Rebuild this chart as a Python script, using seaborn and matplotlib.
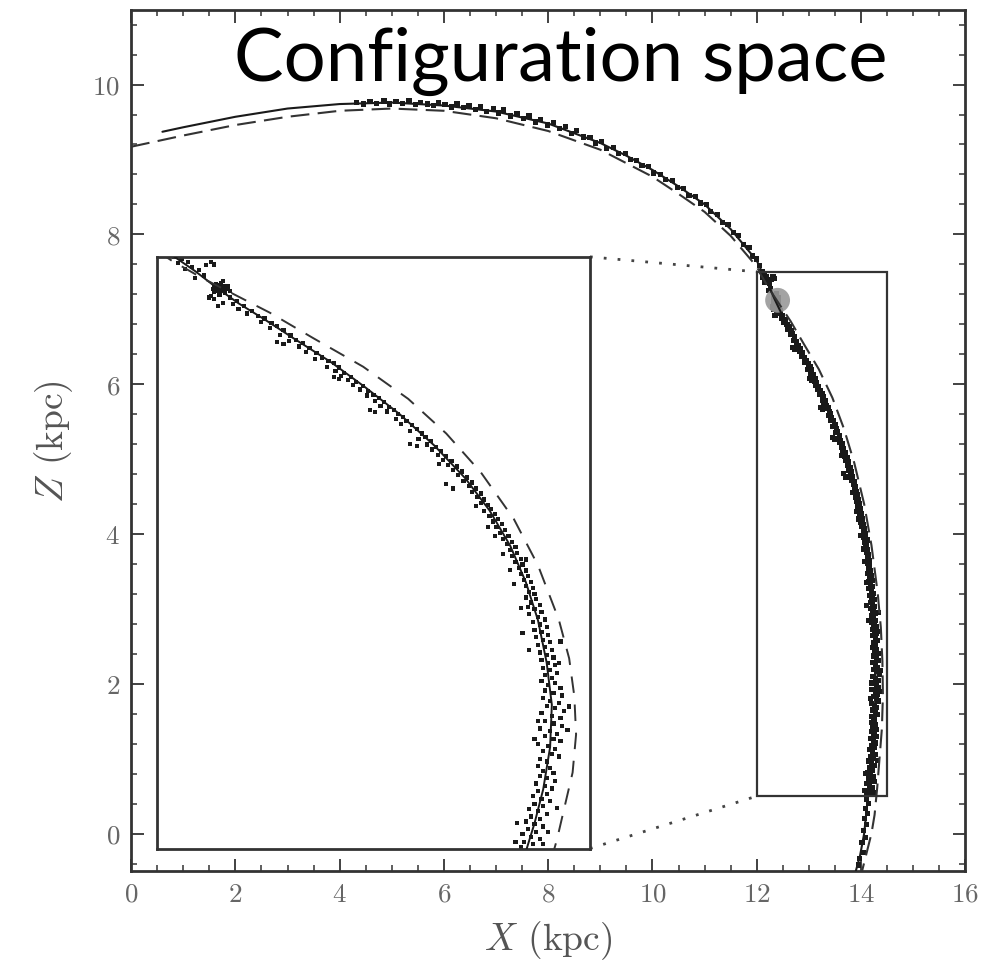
import matplotlib
matplotlib.use("Agg")
import matplotlib.pyplot as plt
from matplotlib.patches import Rectangle
import numpy as np
import pandas as pd
import seaborn as sns

# ---------------- data ----------------
solid_x = [0.6, 1.0, 2.0, 3.0, 4.0, 5.0, 6.0, 7.0, 8.0, 9.0, 9.5, 10.0, 10.5, 11.0, 11.5,
           12.00, 12.10, 12.22, 12.34, 12.47, 12.62, 12.80, 13.00, 13.20, 13.40, 13.60, 13.78,
           13.92, 14.04, 14.13, 14.20, 14.25, 14.28, 14.27, 14.23, 14.18, 14.12, 14.06, 13.98, 13.90]
solid_y = [9.37, 9.43, 9.57, 9.68, 9.74, 9.76, 9.72, 9.64, 9.48, 9.22, 9.05, 8.86, 8.64, 8.40, 8.07,
           7.65, 7.50, 7.33, 7.14, 6.95, 6.76, 6.52, 6.26, 5.96, 5.64, 5.27, 4.88,
           4.50, 4.08, 3.65, 3.20, 2.70, 2.20, 1.70, 1.20, 0.80, 0.40, 0.00, -0.30, -0.50]

dashed_x = [0.0, 1.0, 2.0, 3.0, 4.0, 5.0, 6.0, 7.0, 8.0, 9.0, 10.0, 10.5, 11.0, 11.5, 12.0,
            12.08, 12.25, 12.45, 12.65, 12.90, 13.19, 13.45, 13.67, 13.87, 14.06, 14.20, 14.32,
            14.38, 14.41, 14.42, 14.40, 14.36, 14.31, 14.26, 14.20, 14.11, 14.02]
dashed_y = [9.17, 9.32, 9.46, 9.57, 9.65, 9.68, 9.65, 9.55, 9.38, 9.13, 8.77, 8.54, 8.30, 7.98, 7.57,
            7.46, 7.26, 7.05, 6.84, 6.54, 6.20, 5.82, 5.41, 4.95, 4.40, 3.85, 3.21,
            2.75, 2.30, 1.85, 1.40, 1.05, 0.61, 0.25, 0.00, -0.25, -0.50]

star_pts = [
    # upper arc
    (4.32, 9.76), (4.45, 9.74), (4.58, 9.77), (4.70, 9.75), (4.85, 9.78), (4.95, 9.74), (5.08, 9.77),
    (5.20, 9.75), (5.33, 9.78), (5.45, 9.73), (5.55, 9.76), (5.68, 9.74), (5.80, 9.72), (5.90, 9.76),
    (6.02, 9.73), (6.15, 9.70), (6.25, 9.74), (6.38, 9.69), (6.48, 9.72), (6.60, 9.67), (6.70, 9.70),
    (6.82, 9.64), (6.95, 9.68), (7.05, 9.62), (7.15, 9.66), (7.28, 9.58), (7.40, 9.61), (7.52, 9.55),
    (7.63, 9.58), (7.75, 9.50), (7.85, 9.53), (7.98, 9.46), (8.10, 9.49), (8.22, 9.41), (8.33, 9.44),
    (8.45, 9.35), (8.55, 9.39), (8.68, 9.30), (8.80, 9.29), (8.90, 9.22), (9.02, 9.24), (9.12, 9.15),
    (9.25, 9.16), (9.35, 9.08), (9.48, 9.08), (9.58, 9.00), (9.70, 8.99), (9.80, 8.92), (9.92, 8.91),
    (10.02, 8.82), (10.15, 8.80), (10.25, 8.73), (10.38, 8.72), (10.48, 8.63), (10.60, 8.61),
    (10.70, 8.52), (10.82, 8.51), (10.92, 8.42), (11.03, 8.40), (11.12, 8.31), (11.25, 8.27),
    (11.35, 8.16), (11.45, 8.13), (11.55, 8.02), (11.65, 7.98), (11.75, 7.86), (11.85, 7.82),
    (11.92, 7.71), (12.00, 7.67), (12.05, 7.58),
    # top of zoom box
    (12.10, 7.50), (12.14, 7.47), (12.12, 7.43), (12.18, 7.44), (12.20, 7.38), (12.16, 7.36),
    (12.24, 7.34), (12.28, 7.40), (12.27, 7.28), (12.22, 7.25), (12.31, 7.44), (12.33, 7.41),
    # progenitor clump
    (12.33, 7.15), (12.35, 7.17), (12.37, 7.14), (12.39, 7.16), (12.34, 7.11), (12.36, 7.09),
    (12.38, 7.11), (12.40, 7.12), (12.35, 7.13), (12.37, 7.19), (12.33, 7.08), (12.39, 7.07),
    (12.41, 7.15), (12.36, 7.05), (12.32, 7.12), (12.38, 7.21), (12.42, 7.10), (12.34, 7.18),
    (12.31, 7.04), (12.30, 7.02), (12.33, 7.00), (12.36, 7.14), (12.38, 7.16), (12.35, 7.10),
    # Y 7.0 - 6.3
    (12.42, 7.02), (12.46, 6.98), (12.44, 6.94), (12.50, 6.92), (12.47, 6.88), (12.55, 6.86),
    (12.52, 6.83), (12.58, 6.80), (12.62, 6.77), (12.60, 6.73), (12.66, 6.72), (12.69, 6.68),
    (12.65, 6.66), (12.73, 6.63), (12.71, 6.58), (12.77, 6.57), (12.80, 6.52), (12.76, 6.50),
    (12.84, 6.48), (12.82, 6.44), (12.88, 6.42), (12.86, 6.37), (12.92, 6.36), (12.95, 6.31),
    (12.91, 6.29), (12.69, 6.49), (12.73, 6.47), (12.38, 6.95), (12.35, 6.92),
    # Y 6.3 - 5.5
    (12.99, 6.27), (13.02, 6.24), (12.98, 6.20), (13.05, 6.19), (13.03, 6.15), (13.08, 6.13),
    (13.06, 6.09), (13.12, 6.08), (13.10, 6.04), (13.15, 6.02), (13.13, 5.98), (13.19, 5.97),
    (13.17, 5.93), (13.22, 5.91), (13.25, 5.87), (13.21, 5.86), (13.28, 5.83), (13.26, 5.79),
    (13.31, 5.78), (13.29, 5.74), (13.34, 5.72), (13.37, 5.69), (13.33, 5.67), (13.39, 5.64),
    (13.42, 5.61), (13.38, 5.58), (13.44, 5.56), (13.41, 5.52), (13.47, 5.51),
    (13.02, 6.08), (13.05, 6.05), (13.23, 5.69), (13.26, 5.66), (13.46, 5.29), (13.50, 5.26),
    # Y 5.5 - 4.5
    (13.50, 5.46), (13.46, 5.44), (13.53, 5.41), (13.55, 5.37), (13.51, 5.35), (13.58, 5.32),
    (13.56, 5.28), (13.61, 5.25), (13.59, 5.22), (13.64, 5.20), (13.62, 5.16), (13.67, 5.14),
    (13.65, 5.10), (13.70, 5.08), (13.68, 5.04), (13.73, 5.02), (13.71, 4.98), (13.76, 4.96),
    (13.74, 4.92), (13.79, 4.89), (13.77, 4.85), (13.82, 4.83), (13.80, 4.79), (13.84, 4.76),
    (13.82, 4.72), (13.87, 4.70), (13.85, 4.66), (13.89, 4.63), (13.87, 4.59), (13.91, 4.56),
    (13.93, 4.52), (13.89, 4.49), (13.63, 5.05), (13.67, 4.81), (13.71, 4.76), (13.84, 4.55),
    # Y 4.5 - 3.5
    (13.95, 4.46), (13.92, 4.43), (13.97, 4.40), (13.94, 4.37), (13.99, 4.34), (13.96, 4.30),
    (14.01, 4.27), (13.98, 4.23), (14.03, 4.20), (14.00, 4.16), (14.05, 4.13), (14.02, 4.10),
    (14.07, 4.07), (14.04, 4.03), (14.08, 4.00), (14.05, 3.96), (14.10, 3.93), (14.07, 3.89),
    (14.11, 3.86), (14.09, 3.82), (14.13, 3.79), (14.10, 3.75), (14.14, 3.72), (14.12, 3.68),
    (14.16, 3.65), (14.13, 3.61), (14.17, 3.58), (14.15, 3.54), (14.18, 3.51),
    (13.91, 4.30), (13.95, 4.20), (14.00, 3.98), (14.13, 3.92), (14.04, 3.80), (14.06, 3.63),
    # Y 3.5 - 2.5
    (14.13, 3.47), (14.19, 3.45), (14.16, 3.41), (14.21, 3.38), (14.14, 3.36), (14.18, 3.33),
    (14.22, 3.30), (14.15, 3.27), (14.20, 3.24), (14.24, 3.21), (14.17, 3.18), (14.21, 3.15),
    (14.25, 3.12), (14.18, 3.09), (14.22, 3.06), (14.26, 3.03), (14.19, 3.00), (14.23, 2.97),
    (14.27, 2.94), (14.20, 2.91), (14.24, 2.88), (14.28, 2.85), (14.21, 2.82), (14.25, 2.79),
    (14.29, 2.76), (14.22, 2.73), (14.26, 2.70), (14.30, 2.67), (14.23, 2.64), (14.27, 2.61),
    (14.31, 2.58), (14.24, 2.55), (14.28, 2.52),
    (14.10, 3.35), (14.11, 3.05), (14.15, 2.85), (14.33, 2.95), (14.32, 2.70),
    # Y 2.5 - 1.5
    (14.22, 2.48), (14.30, 2.46), (14.26, 2.43), (14.33, 2.40), (14.24, 2.37), (14.29, 2.34),
    (14.34, 2.31), (14.23, 2.28), (14.27, 2.25), (14.32, 2.22), (14.25, 2.19), (14.30, 2.16),
    (14.35, 2.13), (14.22, 2.10), (14.28, 2.07), (14.33, 2.04), (14.24, 2.01), (14.29, 1.98),
    (14.34, 1.95), (14.21, 1.92), (14.27, 1.89), (14.31, 1.86), (14.24, 1.83), (14.29, 1.80),
    (14.33, 1.77), (14.20, 1.74), (14.26, 1.71), (14.30, 1.68), (14.23, 1.65), (14.28, 1.62),
    (14.32, 1.59), (14.21, 1.56), (14.25, 1.53), (14.38, 2.18), (14.37, 1.90), (14.18, 1.80),
    (14.20, 2.01),
    # Y 1.5 - 0.5
    (14.20, 1.48), (14.27, 1.45), (14.23, 1.42), (14.29, 1.39), (14.21, 1.36), (14.25, 1.33),
    (14.30, 1.30), (14.19, 1.27), (14.24, 1.24), (14.28, 1.21), (14.20, 1.18), (14.25, 1.15),
    (14.17, 1.12), (14.22, 1.09), (14.27, 1.06), (14.18, 1.03), (14.23, 1.00), (14.15, 0.97),
    (14.20, 0.94), (14.25, 0.91), (14.16, 0.88), (14.21, 0.85), (14.13, 0.82), (14.18, 0.79),
    (14.23, 0.76), (14.14, 0.73), (14.19, 0.70), (14.11, 0.67), (14.16, 0.64), (14.21, 0.61),
    (14.12, 0.58), (14.17, 0.55), (14.10, 0.52),
    (14.31, 0.98), (14.08, 0.80), (14.26, 0.70), (14.07, 0.58), (14.23, 0.55),
    # below zoom box
    (14.10, 0.45), (14.14, 0.40), (14.08, 0.33), (14.12, 0.27), (14.06, 0.20), (14.11, 0.12),
    (14.05, 0.04), (14.08, -0.05), (14.02, -0.12), (14.04, -0.25), (13.97, -0.33), (13.95, -0.42),
]
star_x = [p[0] for p in star_pts]
star_y = [p[1] for p in star_pts]

progenitor_x = [12.40]
progenitor_y = [7.12]

zoom_box = (12.0, 0.5, 14.5, 7.5)     # x0, y0, x1, y1 of the zoomed region
inset_box = (0.5, -0.2, 8.8, 7.7)     # where the magnified view is placed

title_text = "Configuration space"
x_label = r"$X$ (kpc)"
y_label = r"$Z$ (kpc)"
x_ticks = [0, 2, 4, 6, 8, 10, 12, 14, 16]
y_ticks = [0, 2, 4, 6, 8, 10]

# ---------------- style ----------------
sns.set_theme(style="ticks")
plt.rcParams.update({
    "font.family": ["serif"],
    "font.serif": ["cmr10", "DejaVu Serif"],
    "mathtext.fontset": "cm",
    "axes.formatter.use_mathtext": True,
    "axes.linewidth": 2.0,
    "axes.edgecolor": "#333333",
    "xtick.direction": "in", "ytick.direction": "in",
    "xtick.top": True, "ytick.right": True,
    "xtick.color": "#333333", "ytick.color": "#333333",
    "xtick.labelcolor": "#666666", "ytick.labelcolor": "#666666",
    "xtick.major.size": 9, "ytick.major.size": 9,
    "xtick.minor.size": 4.5, "ytick.minor.size": 4.5,
    "xtick.major.width": 1.3, "ytick.major.width": 1.3,
    "xtick.minor.width": 1.1, "ytick.minor.width": 1.1,
    "xtick.minor.visible": True, "ytick.minor.visible": True,
})

fig = plt.figure(figsize=(9.86, 9.70), dpi=100)
ax = fig.add_axes([0.133, 0.101, 0.846, 0.888])

solid_df = pd.DataFrame({"x": solid_x, "y": solid_y})
dashed_df = pd.DataFrame({"x": dashed_x, "y": dashed_y})
stars_df = pd.DataFrame({"x": star_x, "y": star_y})


def draw(a, lw, dash, ms):
    sns.scatterplot(data=stars_df, x="x", y="y", ax=a, marker="s", s=ms, color="#1a1a1a",
                    edgecolor="none", linewidth=0, zorder=2)
    sns.lineplot(data=solid_df, x="x", y="y", ax=a, sort=False, estimator=None,
                 color="#1a1a1a", lw=lw, zorder=4)
    sns.lineplot(data=dashed_df, x="x", y="y", ax=a, sort=False, estimator=None,
                 color="#333333", lw=lw, dashes=False, zorder=4)
    a.lines[-1].set_dashes(dash)


draw(ax, 1.5, (9, 4), 14)
sns.scatterplot(x=progenitor_x, y=progenitor_y, ax=ax, s=320, color="#999999",
                edgecolor="none", alpha=0.9, zorder=3)

ax.set_xlim(0, 16)
ax.set_ylim(-0.5, 11)
ax.set_xticks(x_ticks)
ax.set_yticks(y_ticks)
ax.xaxis.set_minor_locator(matplotlib.ticker.MultipleLocator(0.5))
ax.yaxis.set_minor_locator(matplotlib.ticker.MultipleLocator(0.4))
ax.tick_params(labelsize=19.5, pad=8)
ax.set_xlabel(x_label, fontsize=27, color="#555555", labelpad=9)
ax.set_ylabel(y_label, fontsize=27, color="#555555", labelpad=12)

# zoom box on the main axes
zx0, zy0, zx1, zy1 = zoom_box
ax.add_patch(Rectangle((zx0, zy0), zx1 - zx0, zy1 - zy0, fill=False,
                       edgecolor="#333333", lw=1.6, zorder=5))

# inset
ix0, iy0, ix1, iy1 = inset_box
axins = ax.inset_axes([ix0, iy0, ix1 - ix0, iy1 - iy0], transform=ax.transData)
draw(axins, 1.4, (8.5, 6), 9)
axins.set_xlim(zx0, zx1)
axins.set_ylim(zy0, zy1)
axins.set_xticks([]); axins.set_yticks([])
axins.minorticks_off()
axins.tick_params(which="both", top=False, right=False, left=False, bottom=False)
axins.set_xlabel(""); axins.set_ylabel("")
for sp in axins.spines.values():
    sp.set_linewidth(2.0)
    sp.set_edgecolor("#333333")

# connectors
ax.plot([ix1, zx0], [iy1, zy1], ls=(0, (1, 4)), color="#444444", lw=2, zorder=1)
ax.plot([ix1, zx0], [iy0, zy0], ls=(0, (1, 4)), color="#444444", lw=2, zorder=1)

ax.text(0.5156, 0.9187, title_text, transform=ax.transAxes, ha="center", va="baseline",
        fontsize=53.5, family=["Lato", "DejaVu Sans"], color="black")

fig.savefig("out.png", dpi=100)
